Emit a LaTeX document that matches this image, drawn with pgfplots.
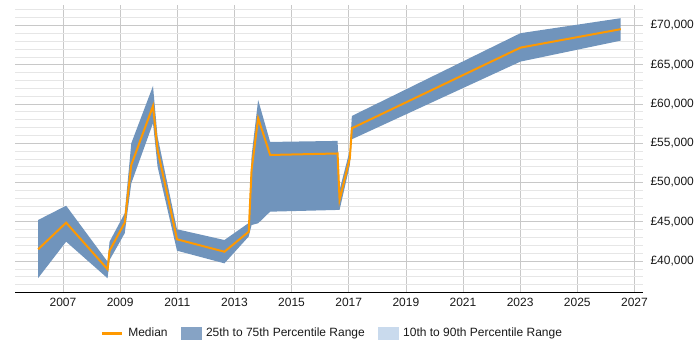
\documentclass[border=0pt]{standalone}
\usepackage{fontspec}
\setmainfont{Liberation Sans}
\usepackage{pgfplots}
\usepackage{pgfplotstable}
\pgfplotsset{compat=1.18}
\usepgfplotslibrary{fillbetween}
\definecolor{medc}{HTML}{FF9900}
\definecolor{bandc}{HTML}{7094BC}
\definecolor{leg25}{HTML}{86A3C5}
\definecolor{leg10}{HTML}{C9DAED}
\definecolor{majg}{HTML}{C8C8C8}
\definecolor{ming}{HTML}{E6E6E6}

\pgfplotstableread{
year lo med up
2006.13 37830 41490 45220
2007.11 42460 44880 47040
2008.56 37800 38940 39910
2008.63 40120 41310 42460
2009.16 43530 44880 46080
2009.39 49890 52230 54990
2010.15 57540 59740 62290
2010.31 52010 54140 55830
2010.99 41310 42760 44040
2012.65 39700 41180 42670
2013.50 43120 43730 44840
2013.60 44580 51590 53370
2013.83 44800 58180 60510
2014.25 46280 53500 55160
2016.61 46500 53690 55290
2016.68 46500 47770 49040
2017.04 52230 53120 54140
2017.11 55500 56900 58470
2023.01 65390 67170 69010
2026.52 68060 69520 70920
}\data

\begin{document}
\begin{tikzpicture}
\begin{axis}[
  at={(0,0)}, anchor=south west,
  scale only axis, width=628bp, height=287bp,
  xmin=2005.32, xmax=2027.3, ymin=36050, ymax=72600,
  axis x line*=bottom, axis y line*=right,
  x axis line style={-, black, line width=0.9bp},
  y axis line style={draw=none},
  scaled y ticks=false, scaled x ticks=false,
  xtick={2007,2009,...,2027},
  ytick={40000,45000,...,70000},
  minor ytick={36000,37000,...,72000},
  xmajorgrids, ymajorgrids, yminorgrids,
  major grid style={majg, line width=0.6bp},
  minor grid style={ming, line width=0.6bp},
  major tick length=0pt, minor tick length=0pt,
  xticklabel={\pgfmathprintnumber[assume math mode=true,fixed,precision=0,1000 sep={}]{\tick}},
  yticklabel={£\pgfmathprintnumber[assume math mode=true,fixed,precision=0,1000 sep={,}]{\tick}},
  every tick label/.append style={font=\fontsize{12bp}{14bp}\selectfont, text=black!90},
  x tick label style={yshift=-3bp},
  y tick label style={xshift=4bp},
  legend style={draw=none, fill=none, legend columns=-1, at={(0.505,0)}, anchor=center, yshift=-41bp,
    font=\fontsize{12bp}{14bp}\selectfont, text=black!90,
    /tikz/every even column/.append style={column sep=11bp},
    /tikz/every odd column/.append style={column sep=3bp}},
]
\addplot[name path=up, draw=none, forget plot] table[x=year,y=up]{\data};
\addplot[name path=lo, draw=none, forget plot] table[x=year,y=lo]{\data};
\addplot[bandc, draw=none, forget plot] fill between[of=up and lo];
\addplot[medc, line width=2bp, forget plot] table[x=year,y=med]{\data};

\addlegendimage{legend image code/.code={\draw[medc,line width=3bp] (0bp,0bp) -- (20bp,0bp);}}
\addlegendentry{Median}
\addlegendimage{legend image code/.code={\fill[leg25] (0bp,-6bp) rectangle (20bp,6bp);}}
\addlegendentry{25th to 75th Percentile Range}
\addlegendimage{legend image code/.code={\fill[leg10] (0bp,-6bp) rectangle (20bp,6bp);}}
\addlegendentry{10th to 90th Percentile Range}
\end{axis}
\pgfresetboundingbox
\useasboundingbox (-15bp,-58bp) rectangle (685bp,292bp);
\end{tikzpicture}
\end{document}
